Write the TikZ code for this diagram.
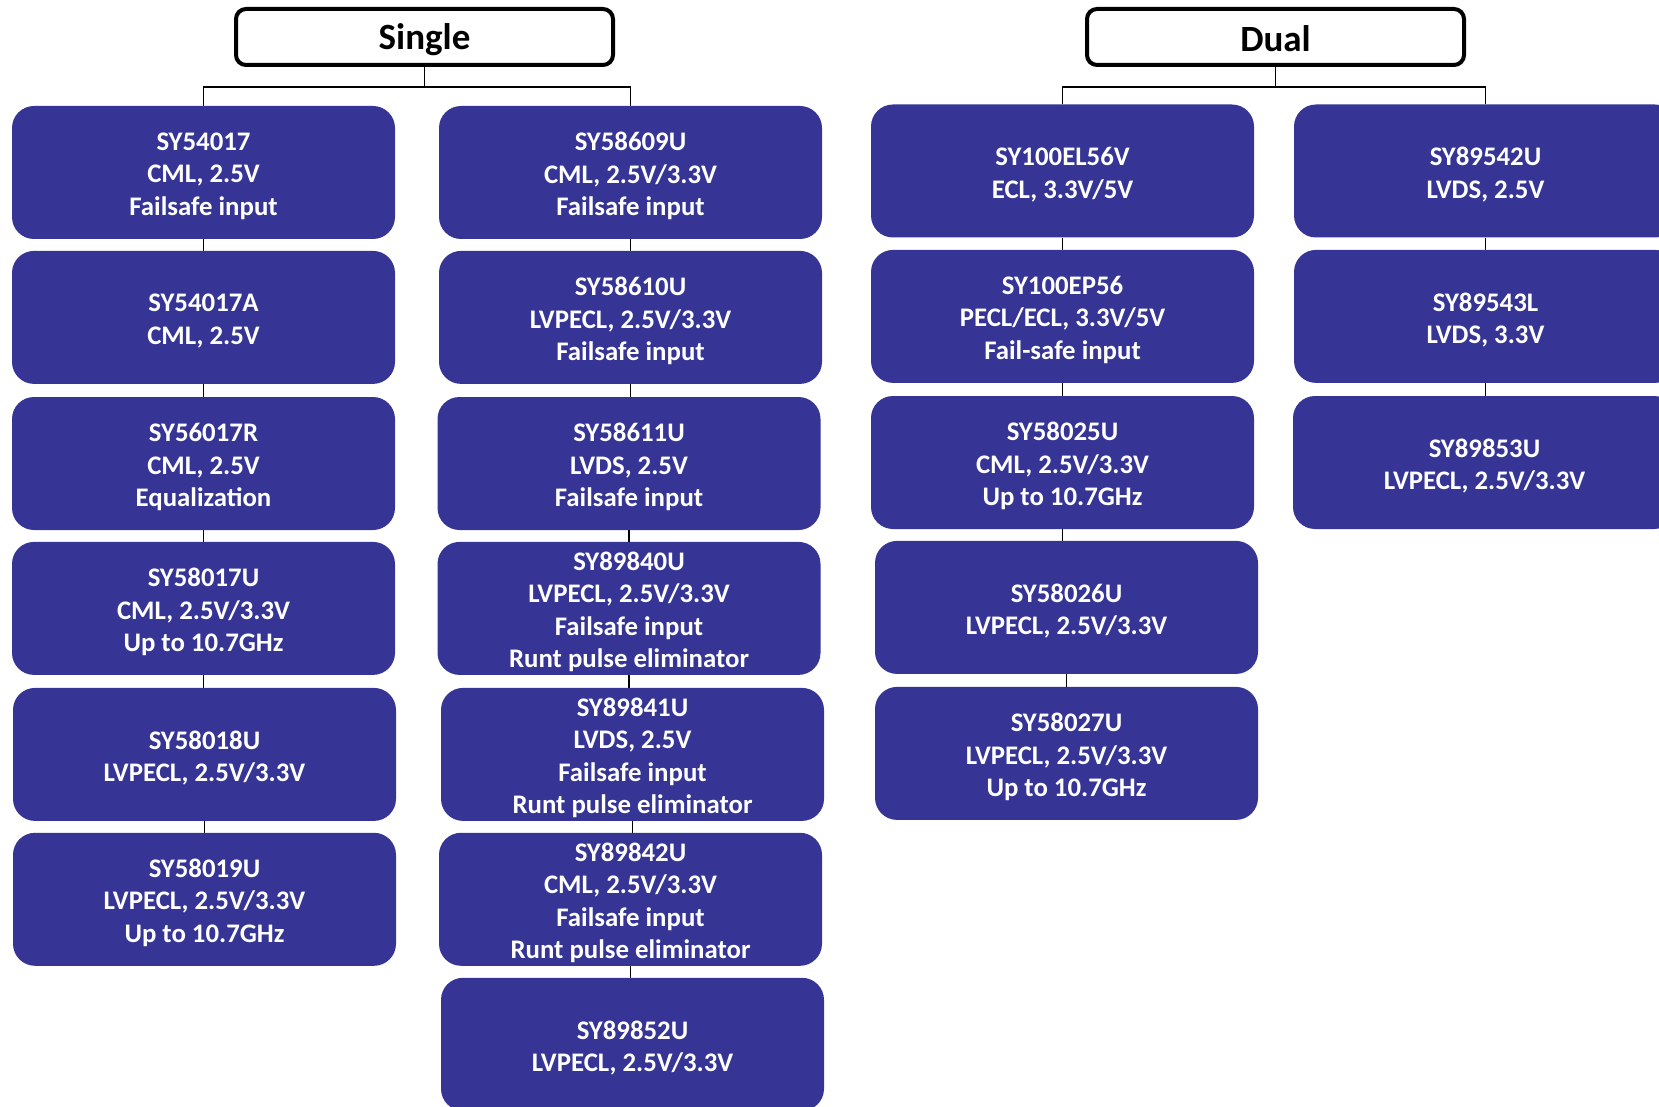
\documentclass[tikz,border=0pt]{standalone}
\usepackage{fontspec}
\setmainfont{Carlito}
\definecolor{boxblue}{RGB}{54,53,150}
\newcommand\prodnode[4]{%
  \node[prodbox] (#1) at (#2,#3) {};
  \node[prodtext] (#1t) at ([yshift=-3.5pt]#1.center) {#4};}
\begin{document}
\begin{tikzpicture}[x=1pt,y=-1pt,
  prodbox/.style={fill=boxblue,draw=none,rounded corners=22pt,minimum width=383pt,minimum height=133pt,inner sep=0pt},
  prodtext/.style={inner sep=0pt,align=center,text=white,font=\fontsize{26.8}{32.4}\selectfont\bfseries},
  head/.style={draw=black,line width=4pt,fill=white,rounded corners=10pt,minimum width=377pt,minimum height=56pt,inner sep=0pt},
  headtext/.style={inner sep=0pt,font=\fontsize{37}{44}\selectfont\bfseries},
  conn/.style={draw=black,line width=1.6pt}]
\useasboundingbox (0,0) rectangle (1659,1107);
% headers
\node[head] (single) at (424.5,37) {};
\node[headtext] (singlet) at ([yshift=-2.5pt]single.center) {Single};
\node[head] (dual) at (1275.5,37) {};
\node[headtext] (dualt) at ([yshift=-1.5pt]dual.center) {Dual};
% column 1
\prodnode{a1}{203.5}{172.5}{SY54017\\CML, 2.5V\\Failsafe input}
\prodnode{a2}{203.5}{317.4}{SY54017A\\CML, 2.5V}
\prodnode{a3}{203.5}{463.5}{SY56017R\\CML, 2.5V\\Equalization}
\prodnode{a4}{203.5}{608.4}{SY58017U\\CML, 2.5V/3.3V\\Up to 10.7GHz}
\prodnode{a5}{204.5}{754.4}{SY58018U\\LVPECL, 2.5V/3.3V}
\prodnode{a6}{204.5}{899.3}{SY58019U\\LVPECL, 2.5V/3.3V\\Up to 10.7GHz}
% column 2
\prodnode{b1}{630.5}{172.5}{SY58609U\\CML, 2.5V/3.3V\\Failsafe input}
\prodnode{b2}{630.5}{317.4}{SY58610U\\LVPECL, 2.5V/3.3V\\Failsafe input}
\prodnode{b3}{629}{463.5}{SY58611U\\LVDS, 2.5V\\Failsafe input}
\prodnode{b4}{629}{608.4}{SY89840U\\LVPECL, 2.5V/3.3V\\Failsafe input\\Runt pulse eliminator}
\prodnode{b5}{632.5}{754.4}{SY89841U\\LVDS, 2.5V\\Failsafe input\\Runt pulse eliminator}
\prodnode{b6}{630.5}{899.3}{SY89842U\\CML, 2.5V/3.3V\\Failsafe input\\Runt pulse eliminator}
\prodnode{b7}{632.5}{1044.3}{SY89852U\\LVPECL, 2.5V/3.3V}
% column 3
\prodnode{c1}{1062.5}{171}{SY100EL56V\\ECL, 3.3V/5V}
\prodnode{c2}{1062.5}{316.4}{SY100EP56\\PECL/ECL, 3.3V/5V\\Fail-safe input}
\prodnode{c3}{1062.5}{462.5}{SY58025U\\CML, 2.5V/3.3V\\Up to 10.7GHz}
\prodnode{c4}{1066.5}{607.4}{SY58026U\\LVPECL, 2.5V/3.3V}
\prodnode{c5}{1066.5}{753.4}{SY58027U\\LVPECL, 2.5V/3.3V\\Up to 10.7GHz}
% column 4
\prodnode{d1}{1485.5}{171}{SY89542U\\LVDS, 2.5V}
\prodnode{d2}{1485.5}{316.4}{SY89543L\\LVDS, 3.3V}
\prodnode{d3}{1484.5}{462.5}{SY89853U\\LVPECL, 2.5V/3.3V}
% tree connectors
\coordinate (sj) at (424.5,87);
\coordinate (dj) at (1275.5,87);
\draw[conn] (single.south) -- (sj);
\draw[conn] (a1.north) |- (sj) -| (b1.north);
\draw[conn] (dual.south) -- (dj);
\draw[conn] (c1.north) |- (dj) -| (d1.north);
% column chains
\foreach \p/\q in {a1/a2,a2/a3,a3/a4,a4/a5,a5/a6,
                   b1/b2,b2/b3,b3/b4,b4/b5,b5/b6,b6/b7,
                   c1/c2,c2/c3,c3/c4,c4/c5,
                   d1/d2,d2/d3}
  \draw[conn] (\p.south) -- (\p.south |- \q.north);
\end{tikzpicture}
\end{document}
